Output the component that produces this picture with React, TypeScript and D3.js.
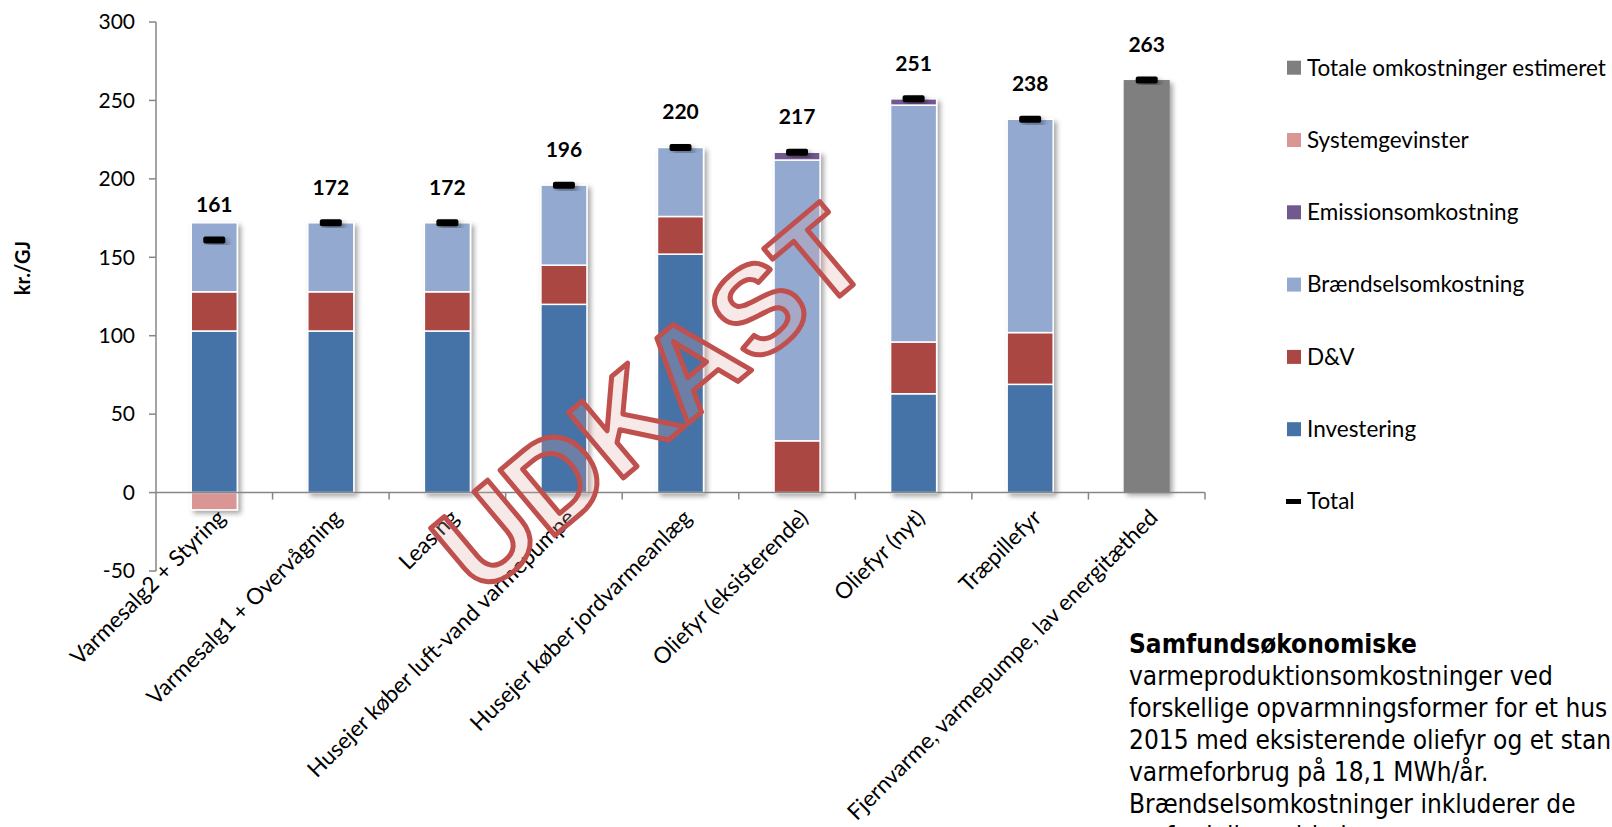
import React from 'react';
import * as d3 from 'd3';

const categories = [
  'Varmesalg2 + Styring',
  'Varmesalg1 + Overvågning',
  'Leasing',
  'Husejer køber luft-vand varmepumpe',
  'Husejer køber jordvarmeanlæg',
  'Oliefyr (eksisterende)',
  'Oliefyr (nyt)',
  'Træpillefyr',
  'Fjernvarme, varmepumpe, lav energitæthed',
];
const investering = [103, 103, 103, 120, 152, 0, 63, 69, 0];
const dv = [25, 25, 25, 25, 24, 33, 33, 33, 0];
const braendsel = [44, 44, 44, 51, 44, 179, 151, 136, 0];
const emission = [0, 0, 0, 0, 0, 5, 4, 0, 0];
const systemgevinster = [-11, 0, 0, 0, 0, 0, 0, 0, 0];
const totaleEstimeret = [0, 0, 0, 0, 0, 0, 0, 0, 263];
const total = [161, 172, 172, 196, 220, 217, 251, 238, 263];
const yTicks = [-50, 0, 50, 100, 150, 200, 250, 300];

const seriesKeys = ['Investering', 'D&V', 'Brændselsomkostning', 'Emissionsomkostning', 'Systemgevinster', 'Totale omkostninger estimeret'];
const seriesValues = [investering, dv, braendsel, emission, systemgevinster, totaleEstimeret];
const seriesColors = ['#4572a7', '#aa4643', '#93a9cf', '#71588f', '#d99694', '#7f7f7f'];
const legendOrder = ['Totale omkostninger estimeret', 'Systemgevinster', 'Emissionsomkostning', 'Brændselsomkostning', 'D&V', 'Investering', 'Total'];

const textLines = [
  'varmeproduktionsomkostninger ved',
  'forskellige opvarmningsformer for et hus',
  '2015 med eksisterende oliefyr og et standard',
  'varmeforbrug på 18,1 MWh/år.',
  'Brændselsomkostninger inkluderer de',
  'omfordelingsvirkninger',
];

const W = 1612;
const H = 827;
const FONT = 'Lato, Calibri, sans-serif';
const BOXFONT = "'DejaVu Sans Condensed', 'DejaVu Sans', sans-serif";

export default function App() {
  const x = d3.scaleBand<string>().domain(categories).range([156, 1205]).paddingInner(0.605).paddingOuter(0.3025);
  const y = d3.scaleLinear().domain([-50, 300]).range([571, 22]);

  const table = categories.map((c, i) => {
    const row: any = { cat: c };
    seriesKeys.forEach((k, j) => (row[k] = seriesValues[j][i]));
    return row;
  });
  const stacked = d3.stack<any>().keys(seriesKeys).offset(d3.stackOffsetDiverging)(table);
  const step = x.step();
  const x0 = 156;
  const x1 = 1205;

  return (
    <div style={{ position: 'fixed', left: 0, top: 0, width: W, height: H, overflow: 'hidden', background: '#fff' }}>
      <svg width={W} height={H} style={{ display: 'block' }}>
        <defs>
          <filter id="sh" x="-30%" y="-10%" width="170%" height="130%">
            <feDropShadow dx="3" dy="3" stdDeviation="2.5" floodColor="#000" floodOpacity="0.35" />
          </filter>
        </defs>
        {/* y axis */}
        <line x1={x0} x2={x0} y1={y(300)} y2={y(-50)} stroke="#868686" strokeWidth={1.5} />
        {yTicks.map((t) => (
          <g key={t}>
            <line x1={x0 - 7} x2={x0} y1={y(t)} y2={y(t)} stroke="#868686" strokeWidth={1.5} />
            <text x={135} y={y(t)} dy="0.35em" textAnchor="end" fontFamily={FONT} fontSize={21} fill="#000">
              {t}
            </text>
          </g>
        ))}
        <text transform={`translate(23,268) rotate(-90)`} textAnchor="middle" dy="0.35em" fontFamily={FONT} fontWeight="bold" fontSize={20}>
          kr./GJ
        </text>
        {/* bars */}
        {categories.map((c, i) => (
          <g key={c} filter="url(#sh)">
            {stacked.map((s, j) => {
              const d = s[i];
              if (d[1] - d[0] === 0) return null;
              const isGrey = seriesKeys[j] === 'Totale omkostninger estimeret';
              return (
                <rect
                  key={s.key}
                  x={x(c)}
                  width={x.bandwidth()}
                  y={y(Math.max(d[0], d[1]))}
                  height={Math.abs(y(d[0]) - y(d[1]))}
                  fill={seriesColors[j]}
                  stroke={isGrey ? 'none' : '#fff'}
                  strokeWidth={1.5}
                />
              );
            })}
          </g>
        ))}
        {/* x axis */}
        <line x1={x0} x2={x1} y1={y(0)} y2={y(0)} stroke="#868686" strokeWidth={1.5} />
        {categories.map((c, i) => (
          <line key={'t' + i} x1={x0 + step * (i + 1)} x2={x0 + step * (i + 1)} y1={y(0)} y2={y(0) + 7} stroke="#868686" strokeWidth={1.5} />
        ))}
        {categories.map((c) => {
          const cx = (x(c) as number) + x.bandwidth() / 2;
          return (
            <text key={'l' + c} transform={`translate(${cx + 7},${y(0) + 21}) rotate(-45)`} textAnchor="end" dy="0.35em" fontFamily={FONT} fontSize={22.5}>
              {c}
            </text>
          );
        })}
        {/* totals */}
        {categories.map((c, i) => {
          const cx = (x(c) as number) + x.bandwidth() / 2;
          return (
            <g key={'tot' + c}>
              <rect x={cx - 11} y={y(total[i]) - 3.5} width={22} height={7} rx={2} fill="#000" filter="url(#sh)" />
              <text x={cx} y={y(total[i]) - 28} textAnchor="middle" fontFamily={FONT} fontWeight="bold" fontSize={21}>
                {total[i]}
              </text>
            </g>
          );
        })}
        {/* legend */}
        {legendOrder.map((k, i) => {
          const ly = 67.7 + i * 72.3;
          const j = seriesKeys.indexOf(k);
          return (
            <g key={'lg' + k}>
              {k === 'Total' ? (
                <rect x={1286} y={ly - 2.5} width={15} height={5} fill="#000" />
              ) : (
                <rect x={1287} y={ly - 7} width={14} height={14} fill={seriesColors[j]} />
              )}
              <text x={1307} y={ly} dy="0.35em" fontFamily={FONT} fontSize={22.5}>
                {k}
              </text>
            </g>
          );
        })}
        {/* watermark */}
        <text
          transform="translate(649,398) rotate(-40)"
          textAnchor="middle"
          dy="0.36em"
          fontFamily="'Liberation Sans', Arial, sans-serif"
          fontWeight="bold"
          fontSize={124}
          fill="rgb(226,168,167)"
          fillOpacity={0.25}
          stroke="#c0504d"
          strokeWidth={5}
          strokeLinejoin="round"
        >
          UDKAST
        </text>
        {/* text box */}
        <text x={1129} y={653} fontFamily={BOXFONT} fontWeight="bold" fontSize={26}>
          Samfundsøkonomiske
        </text>
        {textLines.map((t, i) => (
          <text key={'tl' + i} x={1129} y={685 + i * 32} fontFamily={BOXFONT} fontSize={26}>
            {t}
          </text>
        ))}
      </svg>
    </div>
  );
}
